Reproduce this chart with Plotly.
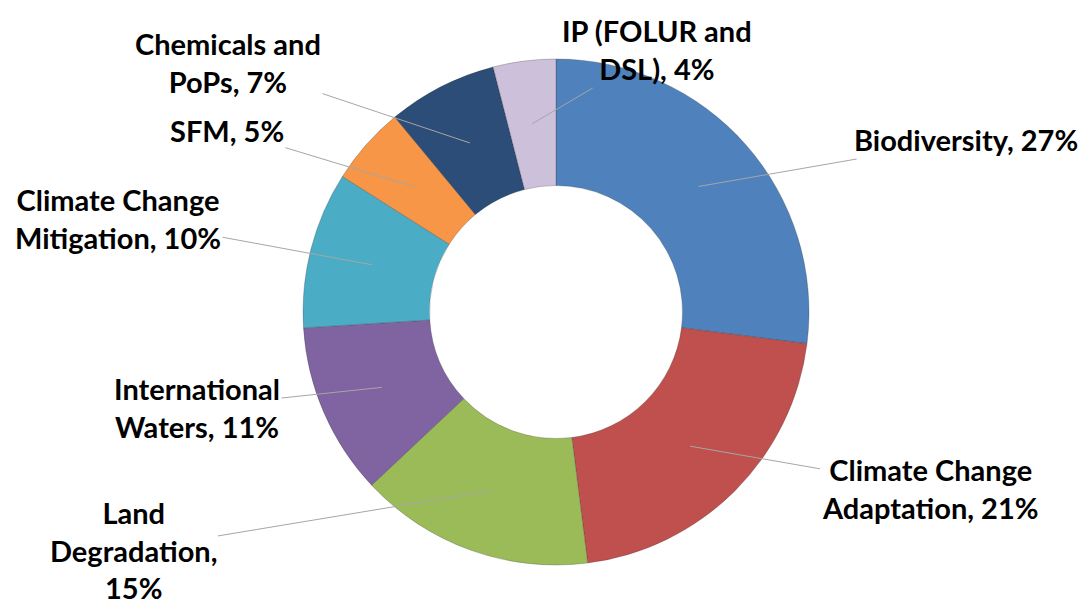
import math
import plotly.graph_objects as go

# Share of funding by focal area (percent), clockwise from 12 o'clock
categories = [
    "Biodiversity",
    "Climate Change Adaptation",
    "Land Degradation",
    "International Waters",
    "Climate Change Mitigation",
    "SFM",
    "Chemicals and PoPs",
    "IP (FOLUR and DSL)",
]
shares = [27, 21, 15, 11, 10, 5, 7, 4]

# Label text as it is broken across lines
label_lines = [
    ["Biodiversity, 27%"],
    ["Climate Change", "Adaptation, 21%"],
    ["Land", "Degradation,", "15%"],
    ["International", "Waters, 11%"],
    ["Climate Change", "Mitigation, 10%"],
    ["SFM, 5%"],
    ["Chemicals and", "PoPs, 7%"],
    ["IP (FOLUR and", "DSL), 4%"],
]

colors = ["#4F81BD", "#C0504D", "#9BBB59", "#8064A2",
          "#4BACC6", "#F79646", "#2B4D77", "#CCC0DA"]

W, H = 1088, 604
CX, CY = 556, 312          # ring centre in pixels
R_OUT = 253
HOLE = 0.5
R_MID = R_OUT * (1 + HOLE) / 2

# Label block centres in pixels
label_pos = [
    (966, 140),
    (930, 488),
    (133, 550),
    (197, 407),
    (118, 218),
    (227, 130),
    (228, 62),
    (657, 50),
]

fig = go.Figure()
fig.add_trace(go.Pie(
    labels=categories,
    values=shares,
    sort=False,
    direction="clockwise",
    rotation=0,
    hole=HOLE,
    textinfo="none",
    hoverinfo="label+percent",
    marker=dict(colors=colors, line=dict(color="rgba(40,40,40,0.25)", width=1)),
    domain=dict(x=[(CX - R_OUT) / W, (CX + R_OUT) / W],
                y=[(H - CY - R_OUT) / H, (H - CY + R_OUT) / H]),
    showlegend=False,
))

total = sum(shares)
cum = 0
annotations = []
for name, val, lines, (lx, ly) in zip(categories, shares, label_lines, label_pos):
    mid = (cum + val / 2) / total * 2 * math.pi
    cum += val
    px = CX + R_MID * math.sin(mid)
    py = CY - R_MID * math.cos(mid)
    annotations.append(dict(
        x=px / W, y=1 - py / H, xref="paper", yref="paper",
        ax=lx - px, ay=ly - py,
        text="<br>".join(lines),
        showarrow=True, arrowhead=0, arrowwidth=1, arrowcolor="#A6A6A6",
        standoff=0, startstandoff=0,
        font=dict(family="Lato", size=29, color="#000000", weight="bold"),
        align="center",
    ))

fig.update_layout(
    width=W, height=H,
    margin=dict(l=0, r=0, t=0, b=0),
    paper_bgcolor="white",
    plot_bgcolor="white",
    annotations=annotations,
)

fig.write_html("out.html")
